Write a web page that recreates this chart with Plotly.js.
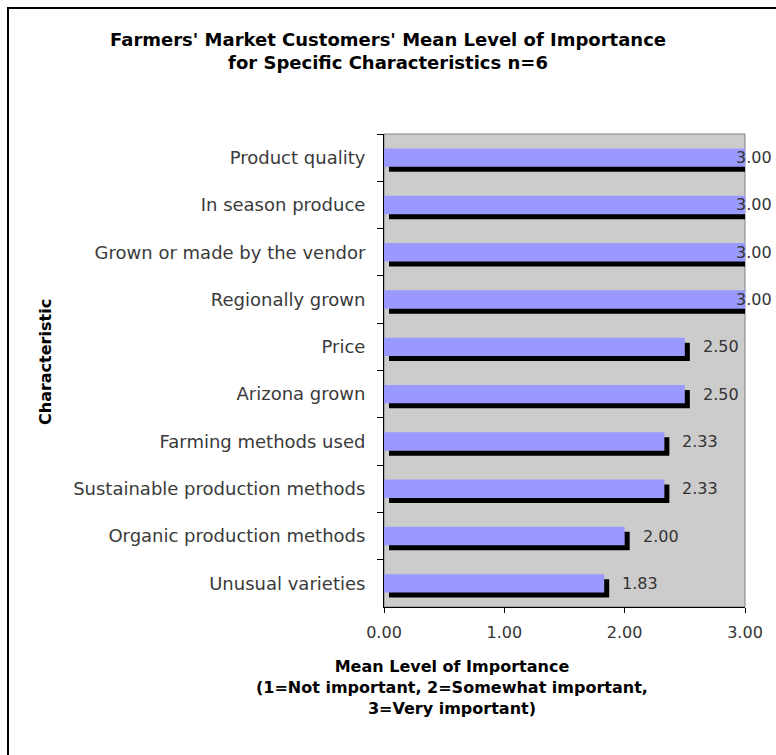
<!DOCTYPE html>
<html>
<head>
<meta charset="utf-8">
<script src="https://cdn.plot.ly/plotly-3.0.1.min.js"></script>
<style>html,body{margin:0;padding:0;background:#fff;}#chart{width:776px;height:755px;}</style>
</head>
<body>
<div id="chart"></div>
<script>
const categories = [
  "Product quality",
  "In season produce",
  "Grown or made by the vendor",
  "Regionally grown",
  "Price",
  "Arizona grown",
  "Farming methods used",
  "Sustainable production methods",
  "Organic production methods",
  "Unusual varieties"
];
const meanImportance = [3.00, 3.00, 3.00, 3.00, 2.50, 2.50, 2.33, 2.33, 2.00, 1.83];
const xTickVals = [0, 1, 2, 3];
const xTickText = ["0.00", "1.00", "2.00", "3.00"];

// layout geometry (pixels)
const W = 776, H = 755;
const L = 384, R = 745, T = 134, B = 607;
const pw = R - L, ph = B - T;
const xMax = 3;
const shadowPx = 5;
const dx = shadowPx / pw * xMax;          // shadow shift in data units
const dy = shadowPx / (ph / categories.length); // shadow shift in category units
const bw = 0.39;

const font = "DejaVu Sans, Verdana, sans-serif";

const shadow = {
  type: "bar", orientation: "h",
  x: meanImportance, y: categories,
  base: meanImportance.map(() => dx),
  width: bw, offset: -bw / 2 + dy,
  marker: {color: "#000000", line: {width: 0}},
  hoverinfo: "skip", showlegend: false
};
const bars = {
  type: "bar", orientation: "h",
  x: meanImportance, y: categories,
  width: bw, offset: -bw / 2,
  marker: {color: "#9999FF", line: {width: 0}},
  showlegend: false
};

const px2x = p => (p - L) / pw;
const px2y = p => (B - p) / ph;

const annotations = meanImportance.map((v, i) => ({
  x: v, y: categories[i], xref: "x", yref: "y",
  text: v.toFixed(2), showarrow: false,
  xanchor: "left", yanchor: "middle",
  xshift: v >= xMax ? -11 : 16,
  font: {family: font, size: 16, color: "#333333"}
}));
annotations.push({
  xref: "paper", yref: "paper", x: px2x(388), y: px2y(51),
  xanchor: "center", yanchor: "middle", showarrow: false,
  text: "<b>Farmers' Market Customers' Mean Level of Importance<br>for Specific Characteristics n=6</b>",
  font: {family: font, size: 18, color: "#000000"}
});
annotations.push({
  xref: "paper", yref: "paper", x: px2x(452), y: px2y(655),
  xanchor: "center", yanchor: "top", showarrow: false,
  text: "<b>Mean Level of Importance<br>(1=Not important, 2=Somewhat important,<br>3=Very important)</b>",
  font: {family: font, size: 16, color: "#000000"}
});
annotations.push({
  xref: "paper", yref: "paper", x: px2x(45), y: px2y(362),
  xanchor: "center", yanchor: "middle", showarrow: false, textangle: -90,
  text: "<b>Characteristic</b>",
  font: {family: font, size: 16, color: "#000000"}
});

const layout = {
  width: W, height: H,
  margin: {l: L, r: W - R, t: T, b: H - B, pad: 0},
  paper_bgcolor: "#FFFFFF", plot_bgcolor: "#CCCCCC",
  barmode: "overlay",
  xaxis: {
    range: [0, xMax], tickvals: xTickVals, ticktext: xTickText,
    showgrid: false, zeroline: false, showline: true, linecolor: "#000000", linewidth: 1,
    ticks: "outside", ticklen: 5, tickcolor: "#000000", ticklabelstandoff: 6,
    tickfont: {family: font, size: 16, color: "#333333"}, fixedrange: true
  },
  yaxis: {
    type: "category", autorange: "reversed",
    showgrid: false, zeroline: false, showline: true, linecolor: "#000000", linewidth: 1,
    ticks: "outside", ticklen: 6, tickcolor: "#000000", tickson: "boundaries",
    ticklabelstandoff: 14,
    tickfont: {family: font, size: 18, color: "#3a3a3a"}, fixedrange: true
  },
  shapes: [
    {type: "rect", xref: "paper", yref: "paper", x0: 0, x1: 1, y0: 0, y1: 1,
     line: {color: "#808080", width: 1}, fillcolor: "rgba(0,0,0,0)", layer: "below"},
    {type: "rect", xref: "paper", yref: "paper",
     x0: px2x(8), x1: px2x(800), y0: px2y(800), y1: px2y(8),
     line: {color: "#000000", width: 2}, fillcolor: "rgba(0,0,0,0)", layer: "above"}
  ],
  annotations: annotations
};

Plotly.newPlot("chart", [shadow, bars], layout, {displayModeBar: false, staticPlot: true});
</script>
</body>
</html>
